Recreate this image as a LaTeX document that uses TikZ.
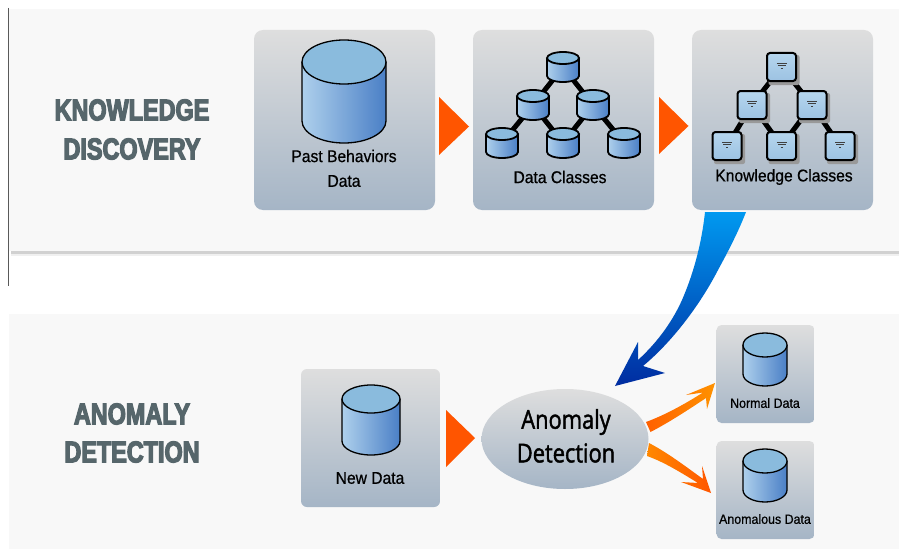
\documentclass[tikz,border=0pt]{standalone}
\usepackage{fontspec}
\setmainfont{Liberation Sans}
\newfontfamily\headfont[BoldFeatures={FakeStretch=0.78,FakeBold=4}]{Liberation Sans}
\newfontfamily\ellfont[FakeStretch=0.84,FakeBold=1.6]{Open Sans}
\newfontfamily\lblfont[FakeStretch=0.92,FakeBold=0.7]{Liberation Sans}
\usetikzlibrary{shapes.geometric,calc}
\tikzset{
  panel/.style={draw=none,fill=panelgray},
  cardbox/.style={draw=none,rounded corners=9pt,top color=cardtop,bottom color=cardbot,inner sep=0pt},
  headtxt/.style={font=\headfont\bfseries\fontsize{30}{30}\selectfont,text=headgray,inner sep=0pt},
  lbl/.style={font=\lblfont\fontsize{17}{18}\selectfont,text=black,inner sep=0pt},
  smalllbl/.style={font=\lblfont\fontsize{13.5}{15}\selectfont,text=black,inner sep=0pt},
  treept/.style={inner sep=0pt,minimum size=1pt},
  treeedge/.style={draw=black,line width=5pt},
  feed/.style={fill=feedorange,draw=none},
  kbox/.style={draw=black,line width=2pt,rounded corners=3pt,top color=kboxtop,bottom color=kboxbot,minimum width=29pt,minimum height=28pt,inner sep=0pt},
}
\definecolor{panelgray}{HTML}{F8F8F8}
\definecolor{cardtop}{HTML}{DEDEDE}
\definecolor{cardbot}{HTML}{A5B5C6}
\definecolor{headgray}{HTML}{56666B}
\definecolor{feedorange}{HTML}{FF5500}
\definecolor{kboxtop}{HTML}{B6D6EE}
\definecolor{kboxbot}{HTML}{9CC2E2}
\definecolor{cyltop}{HTML}{8ABBDD}
\definecolor{cylleft}{HTML}{AED0EC}
\definecolor{cylmid}{HTML}{8AB4E0}
\definecolor{cylright}{HTML}{4A7FC6}
% centre x, top-ellipse y, bottom-ellipse y, rx, ry, line width
\newcommand{\dbcyl}[6]{%
  \path[left color=cylleft,middle color=cylmid,right color=cylright]
    (#1-#4,#2) -- (#1-#4,#3) arc[start angle=180,end angle=360,x radius=#4pt,y radius=#5pt] -- (#1+#4,#2) -- cycle;
  \draw[line width=#6pt,line join=round] (#1-#4,#2) -- (#1-#4,#3) arc[start angle=180,end angle=360,x radius=#4pt,y radius=#5pt] -- (#1+#4,#2);
  \filldraw[fill=cyltop,line width=#6pt] (#1,#2) ellipse[x radius=#4pt,y radius=#5pt];
}
\newcommand{\kfill}[1]{%
  \draw[black!75,line width=.5pt] ($(#1)+(-5,-4)$) -- ($(#1)+(5,-4)$);
  \draw[black!75,line width=.5pt] ($(#1)+(-4,-1.5)$) -- ($(#1)+(4,-1.5)$);
  \draw[black!75,line width=.5pt] ($(#1)+(-1,1.5)$) -- ($(#1)+(1,1.5)$);
}
\begin{document}
\begin{tikzpicture}[x=1pt,y=-1pt]
\useasboundingbox (0,0) rectangle (899,551);
\fill[white] (0,0) rectangle (899,551);
% panels
\fill[panel] (9,9) rectangle (899,251);
\fill[black!6] (11,251) rectangle (899,256);
\fill[black!18] (11,251) rectangle (899,253.5);
\fill[panel] (9,314) rectangle (899,549);
\draw[black!65,line width=1pt] (8,8) -- (8,286);
% headings
\node[headtxt] (h1) at (132,110) {KNOWLEDGE};
\node[headtxt] (h2) at (132,149) {DISCOVERY};
\node[headtxt] (h3) at (132,414) {ANOMALY};
\node[headtxt] (h4) at (132,452) {DETECTION};
% cards
\node[cardbox,minimum width=181pt,minimum height=180pt] (past) at (344.5,120) {};
\node[cardbox,minimum width=181pt,minimum height=180pt] (classes) at (563.5,120) {};
\node[cardbox,minimum width=181pt,minimum height=180pt] (know) at (782.5,120) {};
\node[cardbox,minimum width=139pt,minimum height=138pt,rounded corners=6pt] (new) at (370.5,438) {};
\node[cardbox,minimum width=98pt,minimum height=98pt,rounded corners=5pt] (normal) at (765.5,374) {};
\node[cardbox,minimum width=98pt,minimum height=98pt,rounded corners=5pt] (anom) at (765.5,490) {};
\node[ellipse,minimum width=167pt,minimum height=100pt,inner sep=0pt,top color=cardtop,bottom color=cardbot] (det) at (565,439) {};
% feed triangles
\fill[feed] (439,97) -- (469,126.5) -- (439,155) -- cycle;
\fill[feed] (659,97) -- (688.5,126) -- (659,154) -- cycle;
\fill[feed] (446,410) -- (475,438) -- (446,467) -- cycle;
% large cylinders
\dbcyl{344}{62}{121}{42}{22}{1.3}
\dbcyl{371}{399}{441}{29}{14}{1.3}
\dbcyl{765}{345}{374}{22}{12}{1.3}
\dbcyl{765}{461}{490}{22}{12}{1.3}
% data tree
\node[treept] (d1) at (563,67) {};
\node[treept] (d2) at (533,105) {};
\node[treept] (d3) at (593,105) {};
\node[treept] (d4) at (502,143) {};
\node[treept] (d5) at (563,143) {};
\node[treept] (d6) at (624,143) {};
\draw[treeedge] (d1) -- (d2);
\draw[treeedge] (d1) -- (d3);
\draw[treeedge] (d2) -- (d4);
\draw[treeedge] (d2) -- (d5);
\draw[treeedge] (d3) -- (d5);
\draw[treeedge] (d3) -- (d6);
\dbcyl{563}{58}{76}{16}{6}{1.8}
\dbcyl{533}{96}{114}{16}{6}{1.8}
\dbcyl{593}{96}{114}{16}{6}{1.8}
\dbcyl{502}{134}{152}{16}{6}{1.8}
\dbcyl{563}{134}{152}{16}{6}{1.8}
\dbcyl{624}{134}{152}{16}{6}{1.8}
% knowledge tree
\coordinate (k1) at (781.5,67);
\coordinate (k2) at (752,105);
\coordinate (k3) at (812,105);
\coordinate (k4) at (727,146);
\coordinate (k5) at (781.5,146);
\coordinate (k6) at (840,146);
\foreach \a/\b in {k1/k2,k1/k3,k2/k4,k2/k5,k3/k5,k3/k6} \draw[treeedge] (\a) -- (\b);
\foreach \k in {k1,k2,k3,k4,k5,k6} {
  \fill[black!40,rounded corners=2pt] ($(\k)+(-13,-12)$) rectangle ($(\k)+(18,18)$);
  \node[kbox] (n\k) at (\k) {};
  \kfill{\k}
}
% big blue arrow
\path[top color={rgb,255:red,0;green,153;blue,240},bottom color={rgb,255:red,0;green,44;blue,160}]
  (705,212) .. controls (702,240) and (695,270) .. (682,300)
  .. controls (674,318) and (660,340) .. (638,360)
  -- (638,342) -- (615,386) -- (665,373) -- (643,366)
  .. controls (672,342) and (700,305) .. (718,270)
  .. controls (730,248) and (739,230) .. (746,212) -- cycle;
% orange arrows
\path[left color={rgb,255:red,255;green,96;blue,0},right color={rgb,255:red,255;green,146;blue,0}]
  (646,422) .. controls (665,415) and (685,404) .. (703,392.5)
  -- (686,395) -- (715,383) -- (707,409) -- (706,398)
  .. controls (688,410) and (668,423) .. (650.5,432) -- cycle;
\path[left color={rgb,255:red,255;green,136;blue,0},right color={rgb,255:red,255;green,86;blue,0}]
  (649,443) .. controls (668,453) and (685,466) .. (703,479)
  -- (702,466) -- (711,493) -- (681,482) -- (698,483)
  .. controls (680,472) and (664,462) .. (647,456) -- cycle;
% labels
\node[lbl] (t1) at (344,156) {Past Behaviors};
\node[lbl] (t2) at (344,181) {Data};
\node[lbl] (t3) at (560,177) {Data Classes};
\node[lbl] (t4) at (784,177) {Knowledge Classes};
\node[lbl] (t5) at (370,478) {New Data};
\node[smalllbl] (t6) at (765,403) {Normal Data};
\node[smalllbl] (t7) at (765,519) {Anomalous Data};
\node[font=\ellfont\fontsize{26}{30}\selectfont,text=black,inner sep=0pt] (t8) at (566,422) {Anomaly};
\node[font=\ellfont\fontsize{26}{30}\selectfont,text=black,inner sep=0pt] (t9) at (566,453) {Detection};
\end{tikzpicture}
\end{document}
